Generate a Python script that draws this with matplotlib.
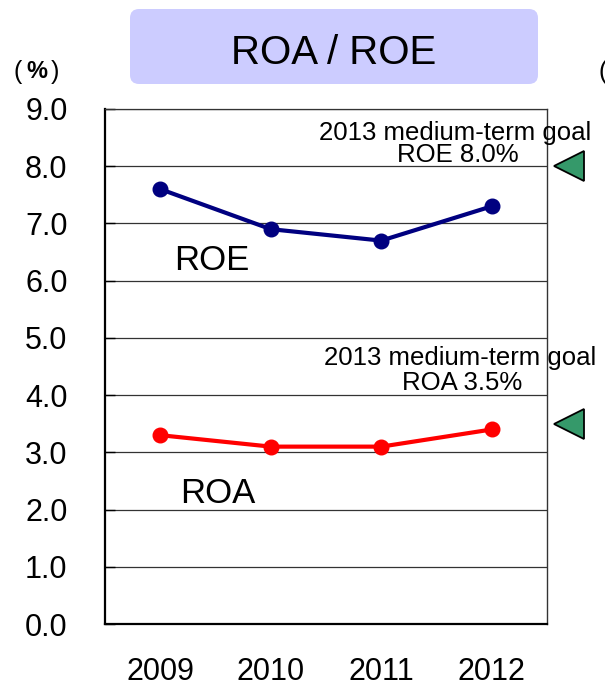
import matplotlib.pyplot as plt
import matplotlib.transforms as mtransforms
from matplotlib.patches import FancyBboxPatch

plt.rcParams["font.family"] = ["Liberation Sans", "DejaVu Sans"]

years = ["2009", "2010", "2011", "2012"]
roe = [7.6, 6.9, 6.7, 7.3]
roa = [3.3, 3.1, 3.1, 3.4]
goals = [8.0, 3.5]
goal_lines = [("2013 medium-term goal", "ROE 8.0%"), ("2013 medium-term goal", "ROA 3.5%")]
yticks = [0, 1, 2, 3, 4, 5, 6, 7, 8, 9]

fig = plt.figure(figsize=(6.05, 6.89), dpi=100)
ax = fig.add_axes([0.1736, 0.0943, 0.7306, 0.7475])

x = [i + 0.5 for i in range(len(years))]
ax.plot(x, roe, color="#000080", lw=3, marker="o", ms=10.5, zorder=3)
ax.plot(x, roa, color="#ff0000", lw=3, marker="o", ms=10.5, zorder=3)

ax.set_xlim(0, 4)
ax.set_ylim(0, 9)
ax.set_yticks(yticks)
ax.set_yticklabels([f"{v:.1f}" for v in yticks])
ax.set_xticks(x)
ax.set_xticklabels(years)
ax.tick_params(axis="y", direction="in", length=7, width=1, pad=27, labelsize=22)
ax.tick_params(axis="x", length=0, pad=24, labelsize=22)
ax.grid(axis="y", color="#333333", lw=0.9)
ax.set_axisbelow(True)

for side, w, c in [("left", 1.6, "black"), ("bottom", 1.6, "black"),
                   ("right", 1.0, "#333333"), ("top", 0.9, "#333333")]:
    ax.spines[side].set_linewidth(w)
    ax.spines[side].set_color(c)

# goal triangles outside the plot on the right
trans = mtransforms.blended_transform_factory(ax.transAxes, ax.transData)
ax.plot([1.05] * len(goals), goals, transform=trans, linestyle="none", marker="<",
        ms=22, markerfacecolor="#35996a", markeredgecolor="black", mew=1.3, clip_on=False)

# goal texts
ax.text(0.793, 8.45, goal_lines[0][0], transform=trans, ha="center", va="baseline", fontsize=18.5)
ax.text(0.799, 8.07, goal_lines[0][1], transform=trans, ha="center", va="baseline", fontsize=18.5)
ax.text(0.803, 4.52, goal_lines[1][0], transform=trans, ha="center", va="baseline", fontsize=18.5)
ax.text(0.808, 4.09, goal_lines[1][1], transform=trans, ha="center", va="baseline", fontsize=18.5)

# series labels
ax.text(0.241, 6.19, "ROE", transform=trans, ha="center", va="baseline", fontsize=25)
ax.text(0.2545, 2.11, "ROA", transform=trans, ha="center", va="baseline", fontsize=25)

# title box
box = FancyBboxPatch((130 / 605, (689 - 84) / 689), 408 / 605, 75 / 689,
                     boxstyle="round,pad=0,rounding_size=0.015", transform=fig.transFigure,
                     facecolor="#ccccff", edgecolor="none", mutation_aspect=605 / 689)
fig.patches.append(box)
fig.text(334 / 605, (689 - 64) / 689, "ROA / ROE", ha="center", va="baseline", fontsize=29)

# unit labels "(%)"
uy = (689 - 72) / 689
fig.text(18 / 605, uy, "(", ha="center", va="center", fontsize=18)
fig.text(36.5 / 605, uy, "%", ha="center", va="center", fontsize=17, fontweight="bold")
fig.text(55 / 605, uy, ")", ha="center", va="center", fontsize=18)
fig.text(599 / 605, uy, "(", ha="left", va="center", fontsize=18)

fig.savefig("out.png", dpi=100)
